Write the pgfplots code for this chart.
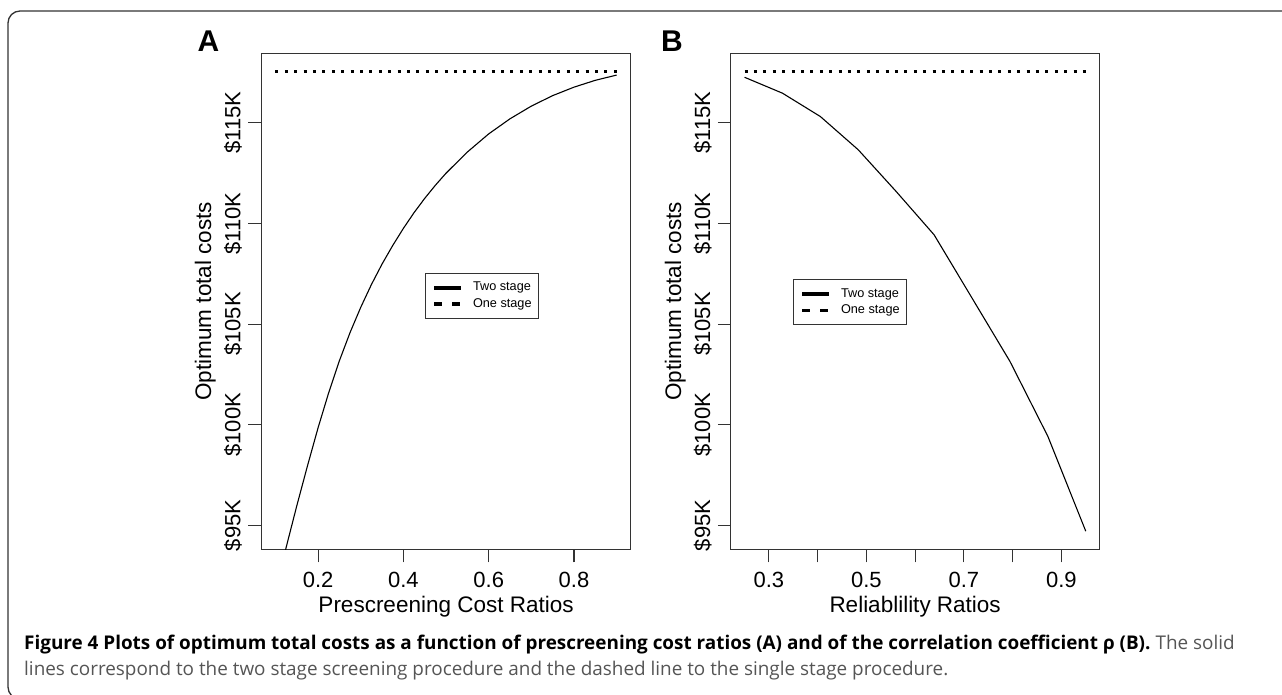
\documentclass[border=0pt]{standalone}
\usepackage{fontspec}
\setmainfont{Liberation Sans}
\newfontfamily\capfont{Open Sans}
\usepackage{pgfplots}
\pgfplotsset{compat=1.18}
\definecolor{axc}{HTML}{333333}
\definecolor{capgray}{HTML}{555555}

\pgfplotsset{
  myax/.style={
    scale only axis,
    height=496pt,
    ymin=93.82, ymax=118.44,
    ytick={95,100,105,110,115},
    yticklabels={\$95K,\$100K,\$105K,\$110K,\$115K},
    tick pos=left,
    tick align=outside,
    major tick length=13pt,
    axis line style={axc, line width=1.1pt},
    every tick/.style={axc, line width=1.1pt},
    tick label style={font=\fontsize{22}{26}\selectfont, inner sep=0pt},
    yticklabel style={rotate=90, anchor=south},
    yticklabel shift=6pt,
    xticklabel style={anchor=north},
    xticklabel shift=10pt,
    label style={font=\fontsize{22.5}{26}\selectfont},
    ylabel={Optimum total costs},
    ylabel style={at={(axis description cs:-0.151,0.5)}, anchor=center, rotate=0},
    xlabel style={at={(axis description cs:0.5,-0.1284)}, anchor=base},
    legend cell align=left,
    legend style={draw=axc, line width=0.9pt, font=\fontsize{12.7}{14}\selectfont,
      inner xsep=7pt, inner ysep=8pt, row sep=4pt,
      nodes={inner sep=0pt, text height=9.5pt, text depth=3pt},
      /tikz/every odd column/.append style={column sep=10pt}},
  },
  twostage/.style={black, line width=1.1pt,
    legend image code/.code={\draw[black, line width=3.6pt] (0pt,0pt) -- (27pt,0pt);}},
  onestage/.style={black, line width=2.6pt, dash pattern=on 3pt off 6.4pt, line cap=butt,
    legend image code/.code={\draw[black, line width=3.6pt, dash pattern=on 8pt off 10pt] (0pt,0pt) -- (27pt,0pt);}},
}

\begin{document}
\begin{tikzpicture}[x=1pt,y=1pt]
\useasboundingbox (0,0) rectangle (1282,694);
\draw[axc, line width=1.3pt, rounded corners=12pt] (1300,683) -- (8,683) -- (8,-5) -- (1300,-5);

% Panel A
\begin{axis}[myax,
  at={(261.2pt,144.7pt)}, anchor=south west,
  width=369.7pt,
  xmin=0.0667, xmax=0.9333,
  xtick={0.2,0.4,0.6,0.8},
  xticklabels={0.2,0.4,0.6,0.8},
  xlabel={Prescreening Cost Ratios},
  legend style={at={(0.443,0.557)}, anchor=north west},
]
\addplot[twostage] coordinates {
(0.100,91.70) (0.125,93.90) (0.150,95.97) (0.175,97.95) (0.200,99.85)
(0.225,101.60) (0.250,103.18) (0.275,104.58) (0.300,105.83) (0.325,106.96)
(0.350,107.98) (0.375,108.90) (0.400,109.75) (0.425,110.53) (0.450,111.24)
(0.475,111.89) (0.500,112.49) (0.550,113.54) (0.600,114.44) (0.650,115.19)
(0.700,115.82) (0.750,116.34) (0.800,116.76) (0.850,117.10) (0.900,117.36)
};
\addlegendentry{Two stage}
\addplot[onestage] coordinates {(0.1,117.53) (0.9,117.53)};
\addlegendentry{One stage}
\end{axis}

% Panel B
\begin{axis}[myax,
  at={(730.9pt,144.7pt)}, anchor=south west,
  width=368.5pt,
  xmin=0.222, xmax=0.978,
  xtick={0.3,0.4,0.5,0.6,0.7,0.8,0.9},
  xticklabels={0.3,,0.5,,0.7,,0.9},
  xlabel={Reliablility Ratios},
  legend style={at={(0.1685,0.5444)}, anchor=north west},
]
\addplot[twostage] coordinates {
(0.2500,117.25) (0.3278,116.46) (0.4056,115.30) (0.4833,113.65) (0.5611,111.58)
(0.6389,109.43) (0.7167,106.29) (0.7944,103.15) (0.8722,99.43) (0.9500,94.72)
};
\addlegendentry{Two stage}
\addplot[onestage] coordinates {(0.25,117.53) (0.95,117.53)};
\addlegendentry{One stage}
\end{axis}

\node[font=\bfseries\fontsize{30}{32}\selectfont] at (208.5,653) {A};
\node[font=\bfseries\fontsize{30}{32}\selectfont] at (672,653) {B};

\node[anchor=base west, inner sep=0pt, font=\capfont\fontsize{18.9}{22}\selectfont] at (24,45)
 {\textbf{Figure 4 Plots of optimum total costs as a function of prescreening cost ratios (A) and of the correlation coefficient ρ (B).} \textcolor{capgray}{The solid}};
\node[anchor=base west, inner sep=0pt, font=\capfont\fontsize{18.9}{22}\selectfont, text=capgray] at (24,19)
 {lines correspond to the two stage screening procedure and the dashed line to the single stage procedure.};
\end{tikzpicture}
\end{document}
